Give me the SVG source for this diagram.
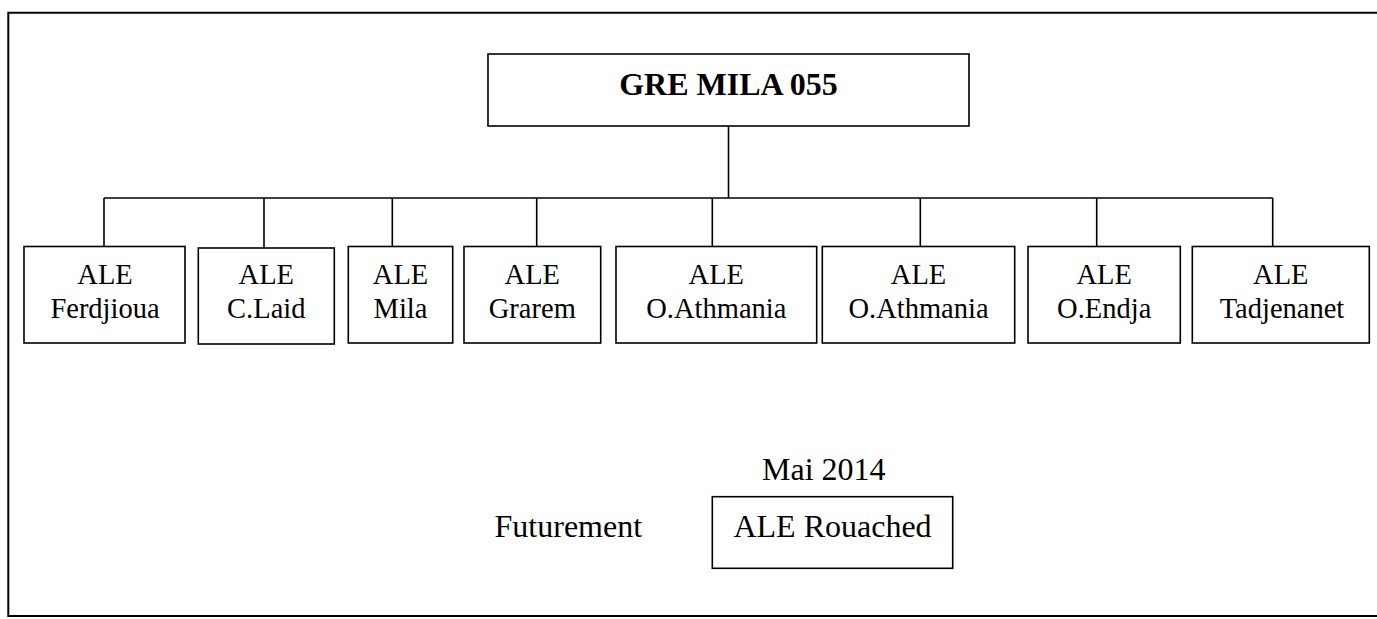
<svg xmlns="http://www.w3.org/2000/svg" width="1377" height="619" viewBox="0 0 1377 619">
<style>
.box{fill:#fff;stroke:#000;stroke-width:1.6}
.ln{fill:none;stroke:#000;stroke-width:1.6}
.t{font-family:"Liberation Serif","Times New Roman",serif;font-size:28.5px;fill:#000;text-anchor:middle}
.tb{font-family:"Liberation Serif","Times New Roman",serif;font-size:32px;font-weight:bold;fill:#000;text-anchor:middle}
.tl{font-family:"Liberation Serif","Times New Roman",serif;font-size:32px;fill:#000;text-anchor:middle}
</style>
<rect width="1377" height="619" fill="#fff"/>
<path id="frame" d="M1377 12.7 H8.3 V616 H1377" fill="none" stroke="#000" stroke-width="2"/>
<g id="connectors">
<path class="ln" d="M728.5 126 V198"/>
<path class="ln" d="M104 198 H1272.7"/>
<path class="ln" d="M104 198 V247 M264 198 V248 M392.3 198 V247 M536.7 198 V247 M712.3 198 V247 M920.3 198 V247 M1096.7 198 V247 M1272.7 198 V247"/>
</g>
<g id="root">
<rect class="box" x="488" y="54" width="481" height="72"/>
<text class="tb" x="728.5" y="95">GRE MILA 055</text>
</g>
<g id="ferdjioua">
<rect class="box" x="24" y="246.5" width="161" height="96.5"/>
<text class="t" x="105" y="284">ALE</text><text class="t" x="105" y="318">Ferdjioua</text>
</g>
<g id="claid">
<rect class="box" x="198.3" y="248" width="136" height="96"/>
<text class="t" x="266.3" y="284">ALE</text><text class="t" x="266.3" y="318">C.Laid</text>
</g>
<g id="mila">
<rect class="box" x="348.3" y="246.5" width="104.4" height="96.5"/>
<text class="t" x="400.5" y="284">ALE</text><text class="t" x="400.5" y="318">Mila</text>
</g>
<g id="grarem">
<rect class="box" x="464" y="246.5" width="136.7" height="96.5"/>
<text class="t" x="532.3" y="284">ALE</text><text class="t" x="532.3" y="318">Grarem</text>
</g>
<g id="oathmania1">
<rect class="box" x="616" y="246.5" width="200.7" height="96.5"/>
<text class="t" x="716.3" y="284">ALE</text><text class="t" x="716.3" y="318">O.Athmania</text>
</g>
<g id="oathmania2">
<rect class="box" x="822.3" y="246.5" width="192.4" height="96.5"/>
<text class="t" x="918.5" y="284">ALE</text><text class="t" x="918.5" y="318">O.Athmania</text>
</g>
<g id="oendja">
<rect class="box" x="1028" y="246.5" width="152.3" height="96.5"/>
<text class="t" x="1104.2" y="284">ALE</text><text class="t" x="1104.2" y="318">O.Endja</text>
</g>
<g id="tadjenanet">
<rect class="box" x="1192.3" y="246.5" width="177" height="96.5"/>
<text class="t" x="1280.8" y="284">ALE</text><text class="t" x="1282" y="318">Tadjenanet</text>
</g>
<g id="future">
<text class="tl" x="568.3" y="536.7">Futurement</text>
<text class="tl" x="823.8" y="480">Mai 2014</text>
</g>
<g id="rouached">
<rect class="box" x="712.3" y="496.7" width="240.4" height="71.6"/>
<text class="tl" x="832.5" y="536.7">ALE Rouached</text>
</g>
</svg>
